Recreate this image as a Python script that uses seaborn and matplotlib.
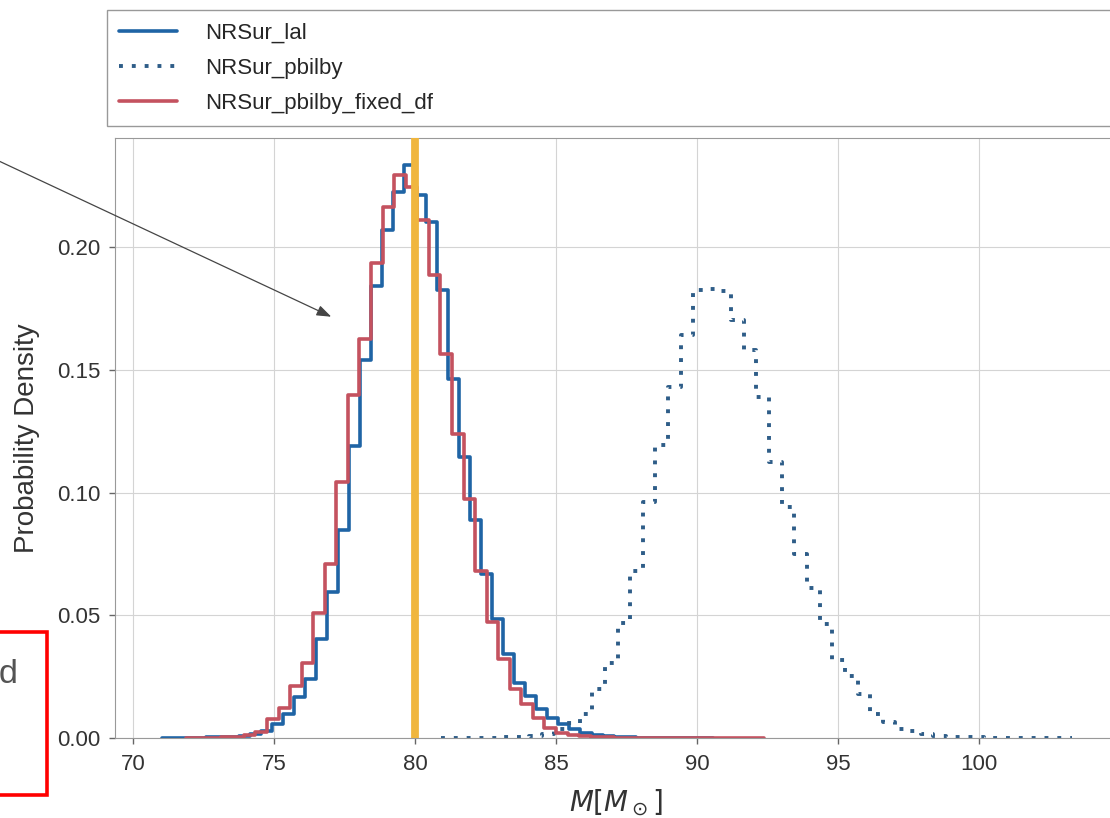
import numpy as np
import matplotlib
matplotlib.use("Agg")
import matplotlib.pyplot as plt
from matplotlib.patches import Rectangle
import seaborn as sns

# 50-bin step histograms, densities
labels = ["NRSur_lal", "NRSur_pbilby", "NRSur_pbilby_fixed_df"]

lal_start, lal_width = 71.0, 0.391
lal_density = [
    0.0001, 0.0001, 0.0002, 0.0002, 0.0003, 0.0004, 0.0006, 0.0009, 0.0015, 0.0030,
    0.0057, 0.0097, 0.0165, 0.0242, 0.0403, 0.0593, 0.0848, 0.1190, 0.1540, 0.1840,
    0.2070, 0.2226, 0.2335, 0.2212, 0.2103, 0.1824, 0.1464, 0.1144, 0.0886, 0.0668,
    0.0484, 0.0342, 0.0226, 0.0171, 0.0117, 0.0083, 0.0056, 0.0035, 0.0022, 0.0013,
    0.0008, 0.0005, 0.0003, 0.0002, 0.0002, 0.0001, 0.0001, 0.0001, 0.00005, 0.00005,
]

pbilby_start, pbilby_width = 80.9, 0.448
pbilby_density = [
    0.0001, 0.0001, 0.0001, 0.0002, 0.0002, 0.0003, 0.0005, 0.0008, 0.0015, 0.0035,
    0.0062, 0.0097, 0.0199, 0.0307, 0.0470, 0.0680, 0.0960, 0.1192, 0.1430, 0.1640,
    0.1826, 0.1830, 0.1820, 0.1702, 0.1582, 0.1389, 0.1124, 0.0940, 0.0750, 0.0610,
    0.0464, 0.0318, 0.0253, 0.0178, 0.0097, 0.0067, 0.0035, 0.0027, 0.0015, 0.0010,
    0.0006, 0.0004, 0.0003, 0.0002, 0.0002, 0.0001, 0.0001, 0.0001, 0.0001, 0.0001,
]

fixed_start, fixed_width = 71.87, 0.41
fixed_density = [
    0.0001, 0.0001, 0.0002, 0.0003, 0.0006, 0.0012, 0.0025, 0.0076, 0.0124, 0.0212,
    0.0307, 0.0511, 0.0709, 0.1042, 0.1396, 0.1627, 0.1936, 0.2164, 0.2294, 0.2246,
    0.2110, 0.1886, 0.1566, 0.1240, 0.0974, 0.0682, 0.0471, 0.0321, 0.0199, 0.0138,
    0.0083, 0.0042, 0.0022, 0.0012, 0.0007, 0.0005, 0.0003, 0.0002, 0.0002, 0.0001,
    0.0001, 0.0001, 0.0001, 0.0001, 0.00005, 0.00005, 0.00005, 0.00005, 0.00005, 0.00005,
]

injected_value = 80.0


def bin_edges(start, width, n):
    return start + width * np.arange(n + 1)


sns.set_style("whitegrid", {"axes.edgecolor": "0.6", "grid.color": "0.83",
                            "xtick.bottom": True, "ytick.left": True})
plt.rcParams["font.family"] = ["Liberation Sans", "DejaVu Sans"]

fig = plt.figure(figsize=(11.1, 8.18), dpi=100)
ax = fig.add_axes([115 / 1110, 80 / 818, 1001 / 1110, 600 / 818])

series = [
    (lal_start, lal_width, lal_density, "#1f64a5", "-", 2.6),
    (pbilby_start, pbilby_width, pbilby_density, "#2e5d88", (0, (1, 2.3)), 2.8),
    (fixed_start, fixed_width, fixed_density, "#c4525f", "-", 2.6),
]
for (start, width, dens, col, ls, lw), lab in zip(series, labels):
    edges = bin_edges(start, width, len(dens))
    centers = (edges[:-1] + edges[1:]) / 2
    sns.histplot(x=centers, weights=dens, bins=edges.tolist(), element="step",
                 fill=False, color=col, linewidth=lw, linestyle=ls, label=lab, ax=ax)

ax.axvline(injected_value, color="#f0b63e", lw=5.6, zorder=5)

ax.set_xlim(69.35, 104.85)
ax.set_ylim(0, 0.2444)
ax.set_xticks(np.arange(70, 101, 5))
ax.set_yticks(np.arange(0, 0.21, 0.05))
ax.set_axisbelow(True)
ax.tick_params(axis="both", length=4.5, width=1, color="0.4",
               labelcolor="0.2", labelsize=16)
ax.tick_params(axis="x", pad=7)
ax.tick_params(axis="y", pad=6)

ax.set_xlabel(r"$M[M_\odot]$", fontsize=20, color="0.2")
ax.set_ylabel("Probability Density", fontsize=20, color="0.2")
ax.xaxis.set_label_coords(0.5, -0.083)
ax.yaxis.set_label_coords(-0.075, 0.5)

leg = ax.legend(loc="lower left", bbox_to_anchor=(-0.008, 1.02, 1.2, 0.19),
                mode="expand", borderaxespad=0, fontsize=16, frameon=True,
                fancybox=False, framealpha=1, edgecolor="0.6",
                handlelength=2.6, handletextpad=1.25, labelspacing=0.64,
                borderpad=0.55)
leg.get_frame().set_linewidth(1.0)
for t in leg.get_texts():
    t.set_color("0.15")

# arrow coming in from a cropped annotation on the left
ax.annotate("", xy=(77.02, 0.1716), xycoords="data",
            xytext=(-0.027, 0.8197), textcoords="figure fraction",
            arrowprops=dict(arrowstyle="-|>,head_length=0.55,head_width=0.2",
                            color="0.27", lw=0.9, shrinkA=0, shrinkB=0,
                            mutation_scale=16),
            annotation_clip=False)

# red highlight box at lower left (cropped)
fig.add_artist(Rectangle((-0.02, 0.0281), 0.0626, 0.1997, transform=fig.transFigure,
                         fill=False, edgecolor="#ff0000", lw=2.6))
fig.text(17 / 1110, (818 - 683) / 818, "d", ha="right", va="baseline",
         fontsize=24.5, color="0.33")

fig.savefig("out.png", dpi=100)
